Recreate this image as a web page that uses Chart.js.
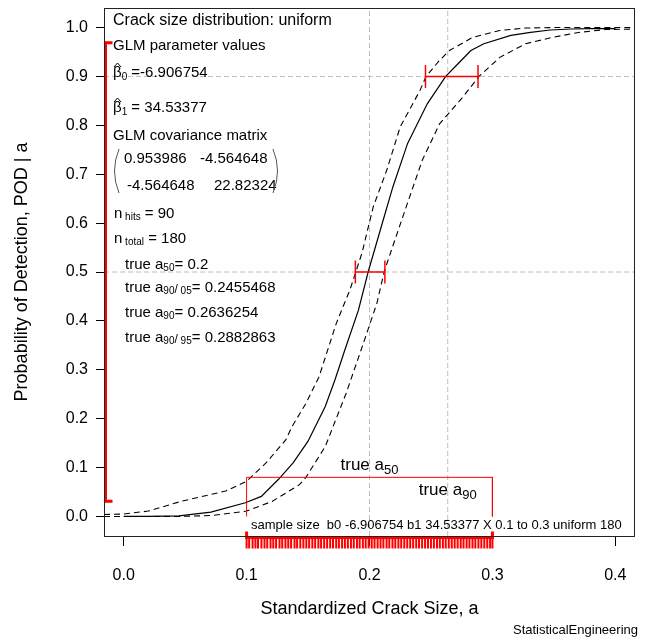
<!DOCTYPE html>
<html>
<head>
<meta charset="utf-8">
<script src="https://cdn.jsdelivr.net/npm/chart.js@4.4.1/dist/chart.umd.min.js"></script>
<style>
  html, body { margin: 0; padding: 0; background: #fff; }
  canvas { display: block; }
</style>
</head>
<body>
<canvas id="pod" width="648" height="640"></canvas>
<script>
const FONT = '"Liberation Sans", Arial, Helvetica, sans-serif';

// axis limits, R style (data range stretched by 4%)
const xMin = -0.016, xMax = 0.416;
const yMin = -0.04, yMax = 1.04;
const xTicks = [0, 0.1, 0.2, 0.3, 0.4];
const yTicks = [0, 0.1, 0.2, 0.3, 0.4, 0.5, 0.6, 0.7, 0.8, 0.9, 1.0];

// POD | a
const podX = [0.000, 0.020, 0.045, 0.071, 0.099, 0.112, 0.126, 0.138, 0.150, 0.164, 0.172, 0.180, 0.191, 0.199,
  0.2095, 0.219, 0.231, 0.247, 0.262, 0.272, 0.2825, 0.293, 0.315, 0.331, 0.347, 0.364, 0.380, 0.400];
const podY = [0.000, 0.000, 0.001, 0.009, 0.028, 0.041, 0.076, 0.110, 0.154, 0.225, 0.280, 0.341, 0.422, 0.501,
  0.592, 0.674, 0.763, 0.844, 0.900, 0.926, 0.953, 0.967, 0.984, 0.990, 0.995, 0.997, 0.998, 0.998];

// upper confidence bound (left dashed)
const upX = [-0.016, 0.000, 0.020, 0.047, 0.083, 0.100, 0.116, 0.132, 0.137, 0.148, 0.159, 0.173, 0.184, 0.189,
  0.194, 0.203, 0.214, 0.225, 0.241, 0.246, 0.257, 0.265, 0.284, 0.306, 0.327, 0.349, 0.380, 0.416];
const upY = [0.004, 0.005, 0.011, 0.031, 0.052, 0.072, 0.110, 0.157, 0.184, 0.230, 0.286, 0.395, 0.463, 0.501,
  0.540, 0.633, 0.708, 0.797, 0.871, 0.900, 0.933, 0.953, 0.980, 0.994, 0.999, 1.000, 1.000, 1.000];

// lower confidence bound (right dashed)
const loX = [-0.016, 0.045, 0.072, 0.100, 0.121, 0.143, 0.148, 0.164, 0.181, 0.195, 0.206, 0.212, 0.216, 0.229,
  0.243, 0.257, 0.276, 0.289, 0.306, 0.327, 0.349, 0.370, 0.392, 0.416];
const loY = [0.000, 0.000, 0.002, 0.011, 0.031, 0.065, 0.079, 0.143, 0.252, 0.354, 0.436, 0.501, 0.531, 0.627,
  0.729, 0.803, 0.858, 0.900, 0.939, 0.967, 0.980, 0.990, 0.996, 0.997];

const refPod = [0.5, 0.9];
const refSize = [0.2, 0.2636254];
const a50Ci = [0.1885, 0.2125];
const a90Ci = [0.2455468, 0.2882863];
const sizeRange = [0.1, 0.3];
const podRange = [0.031, 0.969];
const bracketTop = 0.08;

// crack sizes in the sample (rug)
const rugX = [0.1000, 0.1021, 0.1049, 0.1072, 0.1093, 0.1121, 0.1146, 0.1168, 0.1195, 0.1217,
  0.1240, 0.1268, 0.1290, 0.1316, 0.1339, 0.1362, 0.1390, 0.1411, 0.1437, 0.1462,
  0.1486, 0.1509, 0.1535, 0.1558, 0.1584, 0.1606, 0.1631, 0.1655, 0.1680, 0.1703,
  0.1729, 0.1751, 0.1777, 0.1800, 0.1824, 0.1849, 0.1872, 0.1898, 0.1920, 0.1946,
  0.1969, 0.1993, 0.2018, 0.2041, 0.2066, 0.2090, 0.2113, 0.2139, 0.2161, 0.2187,
  0.2210, 0.2235, 0.2258, 0.2283, 0.2307, 0.2331, 0.2355, 0.2380, 0.2403, 0.2428,
  0.2452, 0.2476, 0.2500, 0.2524, 0.2549, 0.2572, 0.2597, 0.2620, 0.2645, 0.2669,
  0.2693, 0.2717, 0.2742, 0.2765, 0.2790, 0.2813, 0.2838, 0.2861, 0.2886, 0.2910,
  0.2934, 0.2958, 0.2981, 0.3000];

function pts(xs, ys) {
  return xs.map((x, i) => ({x: x, y: ys[i]}));
}

function line(data, color, width, dash) {
  return {
    data: data, showLine: true, pointRadius: 0, tension: 0,
    borderColor: color, borderWidth: width, borderDash: dash || [], fill: false
  };
}

const GRAY = '#bebebe';
const RED = '#ff0000';
const capH = 0.0235;

// pushed bottom layer first; reversed below since chart.js paints dataset 0 on top
const datasets = [];
refPod.forEach(p => datasets.push(line([{x: xMin, y: p}, {x: xMax, y: p}], GRAY, 1, [5, 3])));
refSize.forEach(a => datasets.push(line([{x: a, y: yMin}, {x: a, y: yMax}], GRAY, 1, [5, 3])));
datasets.push(line(pts(upX, upY), '#000', 1.1, [6, 4]));
datasets.push(line(pts(loX, loY), '#000', 1.1, [6, 4]));
datasets.push(line(pts(podX, podY), '#000', 1.2));

// interval bars at POD 0.5 and 0.9
[[a50Ci, refPod[0]], [a90Ci, refPod[1]]].forEach(([ci, p]) => {
  datasets.push(line([{x: ci[0], y: p}, {x: ci[1], y: p}], RED, 1.5));
  ci.forEach(a => datasets.push(line([{x: a, y: p - capH}, {x: a, y: p + capH}], RED, 1.5)));
});

// bracket over the sampled size range
datasets.push(line([{x: sizeRange[0], y: 0}, {x: sizeRange[0], y: bracketTop},
  {x: sizeRange[1], y: bracketTop}, {x: sizeRange[1], y: 0}], RED, 1));

// rug just under the axis (point must stay within radius+border of the area or chart.js skips it)
datasets.push({
  data: rugX.map(x => ({x: x, y: yMin - 0.0133})),
  showLine: false, pointStyle: 'line', rotation: 90, pointRadius: 6, pointHoverRadius: 6,
  pointBorderColor: RED, borderColor: RED, pointBorderWidth: 2, borderWidth: 2, clip: false
});
datasets.reverse();

function runs(ctx, x, y, parts) {
  parts.forEach(p => {
    ctx.font = p[1] + 'px ' + FONT;
    ctx.fillText(p[0], x, y + (p[2] || 0));
    x += ctx.measureText(p[0]).width;
  });
  return x;
}

function runsWidth(ctx, parts) {
  let w = 0;
  parts.forEach(p => {
    ctx.font = p[1] + 'px ' + FONT;
    w += ctx.measureText(p[0]).width;
  });
  return w;
}

const boxPlugin = {
  id: 'box',
  afterDraw(chart) {
    const {ctx, chartArea: a, scales} = chart;
    const xs = scales.x, ys = scales.y;
    ctx.save();

    // range bars on the axes
    ctx.strokeStyle = RED;
    ctx.lineWidth = 3;
    const lx = a.left + 1.5;
    const t = ys.getPixelForValue(podRange[1]), b = ys.getPixelForValue(podRange[0]);
    ctx.beginPath();
    ctx.moveTo(lx + 7, t); ctx.lineTo(lx, t); ctx.lineTo(lx, b); ctx.lineTo(lx + 7, b);
    ctx.stroke();
    const by = a.bottom + 1.5;
    const l = xs.getPixelForValue(sizeRange[0]), r = xs.getPixelForValue(sizeRange[1]);
    ctx.beginPath();
    ctx.moveTo(l, by - 6); ctx.lineTo(l, by); ctx.lineTo(r, by); ctx.lineTo(r, by - 6);
    ctx.stroke();

    ctx.strokeStyle = '#222';
    ctx.lineWidth = 1;
    ctx.strokeRect(a.left + 0.5, a.top + 0.5, a.right - a.left - 1, a.bottom - a.top);

    // text block
    ctx.fillStyle = '#000';
    ctx.textAlign = 'left';
    ctx.textBaseline = 'alphabetic';
    const F = 15, S = 10;
    runs(ctx, 113, 25, [['Crack size distribution: uniform', 16]]);
    runs(ctx, 113, 50, [['GLM parameter values', F]]);
    runs(ctx, 113, 77, [['\u03B2', F], ['0', S, 3], [' =-6.906754', F]]);
    runs(ctx, 113, 112, [['\u03B2', F], ['1', S, 3], [' = 34.53377', F]]);
    ctx.strokeStyle = '#000';
    ctx.lineWidth = 1;
    [63, 98].forEach(hy => {
      ctx.beginPath();
      ctx.moveTo(114, hy + 4); ctx.lineTo(117.5, hy); ctx.lineTo(121, hy + 4);
      ctx.stroke();
    });
    runs(ctx, 113, 140, [['GLM covariance matrix', F]]);
    runs(ctx, 124, 163, [['0.953986', F]]);
    runs(ctx, 200, 163, [['-4.564648', F]]);
    runs(ctx, 127, 190, [['-4.564648', F]]);
    runs(ctx, 214, 190, [['22.82324', F]]);
    ctx.strokeStyle = '#555';
    ctx.beginPath();
    ctx.moveTo(119, 149); ctx.quadraticCurveTo(110, 171, 119, 193);
    ctx.moveTo(273, 149); ctx.quadraticCurveTo(282, 171, 273, 193);
    ctx.stroke();
    runs(ctx, 114, 218, [['n', F], [' hits', S, 2], [' = 90', F]]);
    runs(ctx, 114, 243, [['n', F], [' total', S, 2], [' = 180', F]]);
    runs(ctx, 125, 269, [['true a', F], ['50', S, 2], ['= 0.2', F]]);
    runs(ctx, 125, 292, [['true a', F], ['90', S, 2], ['/', 12, 1], [' 05', S, 2], ['= 0.2455468', F]]);
    runs(ctx, 125, 317, [['true a', F], ['90', S, 2], ['= 0.2636254', F]]);
    runs(ctx, 125, 342, [['true a', F], ['90', S, 2], ['/', 12, 1], [' 95', S, 2], ['= 0.2882863', F]]);

    // labels on the bracket, centred on the true values
    const lab50 = [['true a', 17], ['50', 13, 4]];
    const lab90 = [['true a', 17], ['90', 13, 4]];
    runs(ctx, xs.getPixelForValue(refSize[0]) - runsWidth(ctx, lab50) / 2, 470, lab50);
    runs(ctx, xs.getPixelForValue(refSize[1]) - runsWidth(ctx, lab90) / 2, 495, lab90);

    runs(ctx, 251, 529, [['sample size  b0 -6.906754 b1 34.53377 X 0.1 to 0.3 uniform 180', 13]]);

    ctx.textAlign = 'right';
    ctx.font = '13px ' + FONT;
    ctx.fillText('StatisticalEngineering', 638, 634);
    ctx.restore();
  }
};

new Chart(document.getElementById('pod'), {
  type: 'scatter',
  data: {datasets: datasets},
  options: {
    responsive: false,
    animation: false,
    layout: {padding: {top: 6, right: 13, left: 0, bottom: 0}},
    plugins: {legend: {display: false}, tooltip: {enabled: false}},
    scales: {
      x: {
        type: 'linear', min: xMin, max: xMax,
        afterFit: s => { s.height = 104; s.paddingLeft = 0; s.paddingRight = 0; },
        afterBuildTicks: s => { s.ticks = xTicks.map(v => ({value: v})); },
        ticks: {
          callback: v => v.toFixed(1), color: '#000', padding: 20,
          font: {family: FONT, size: 16}, maxRotation: 0, autoSkip: false
        },
        grid: {drawOnChartArea: false, tickLength: 10, tickColor: '#000', color: '#000'},
        border: {display: false},
        title: {
          display: true, text: 'Standardized Crack Size, a', color: '#000',
          font: {family: FONT, size: 18}, padding: {top: 0, bottom: 20}
        }
      },
      y: {
        type: 'linear', min: yMin, max: yMax,
        afterFit: s => { s.width = 104; s.paddingTop = 0; s.paddingBottom = 0; },
        afterBuildTicks: s => { s.ticks = yTicks.map(v => ({value: v})); },
        ticks: {
          callback: v => v.toFixed(1), color: '#000', padding: 8,
          font: {family: FONT, size: 16}, autoSkip: false
        },
        grid: {drawOnChartArea: false, tickLength: 8, tickColor: '#000', color: '#000'},
        border: {display: false},
        title: {
          display: true, text: 'Probability of Detection, POD | a', color: '#000',
          font: {family: FONT, size: 18}, padding: {top: 11, bottom: 0}
        }
      }
    }
  },
  plugins: [boxPlugin]
});
</script>
</body>
</html>
